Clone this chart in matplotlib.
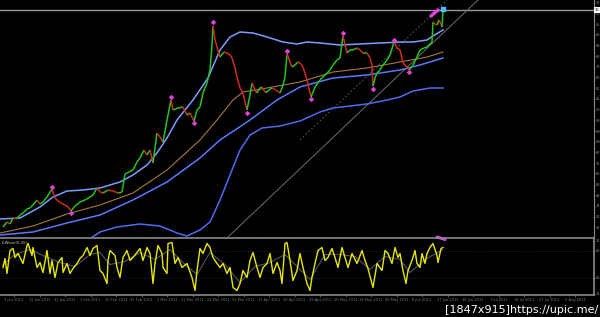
import numpy as np
import matplotlib
matplotlib.use("Agg")
import matplotlib.pyplot as plt
from matplotlib.collections import LineCollection

# ---- price (close), bar position / level ----
bar = [3, 7, 10, 13, 17, 20, 23, 27, 30, 33, 37, 40, 43, 47, 52, 55, 57, 61, 65, 68,
       71, 75, 80, 85, 90, 93, 97, 100, 103, 108, 113, 118, 122, 125, 129, 133, 137, 140, 144, 147,
       150, 153, 157, 160, 163, 167, 171, 173, 178, 183, 187, 190, 194, 197, 200, 203, 207, 210, 212, 213,
       215, 217, 220, 224, 227, 230, 232, 235, 237, 240, 243, 247, 250, 252, 255, 257, 260, 262, 265, 267,
       270, 272, 276, 280, 283, 285, 287, 290, 292, 295, 298, 301, 303, 307, 311, 315, 318, 320, 324, 327,
       330, 333, 337, 340, 343, 347, 350, 353, 357, 360, 363, 367, 370, 372, 373, 375, 377, 380, 383, 387,
       390, 394, 397, 400, 403, 407, 409, 411, 413, 417, 420, 424, 427, 430, 432, 433, 435, 437, 439, 441,
       442, 443]
close = [13, 18, 16, 22, 21, 25, 27, 31, 32, 35, 40, 36, 38, 43, 51, 42, 40, 37, 35, 33,
         29, 34, 38, 40, 43, 45, 52, 48, 47, 50, 49, 47, 48, 66, 68, 70, 78, 82, 90, 85,
         90, 77, 107, 103, 98, 120, 140, 130, 132, 133, 125, 127, 119, 130, 133, 147, 157, 170, 195, 214,
         200, 193, 183, 188, 187, 185, 182, 172, 163, 152, 147, 130, 145, 157, 150, 147, 152, 153, 148, 148,
         151, 152, 150, 147, 155, 163, 186, 178, 173, 175, 178, 176, 173, 160, 143, 153, 157, 160, 164, 167,
         170, 175, 180, 182, 204, 187, 190, 190, 192, 190, 187, 187, 182, 175, 154, 162, 167, 170, 175, 180,
         185, 198, 192, 190, 177, 173, 170, 172, 175, 183, 190, 192, 193, 196, 198, 218, 216, 215, 220, 216,
         213, 229]

# fractal marks
frac_x = [52, 71, 171, 194, 213, 247, 287, 311, 343, 373, 394, 409]
frac_y = [53, 27, 143, 117, 218, 127, 189, 141, 207, 151, 200, 168]

# bands and moving average
up_x = [0, 20, 40, 53, 67, 83, 100, 120, 133, 147, 157, 167, 177, 193, 208, 220, 230, 240, 253, 267,
        283, 297, 307, 320, 340, 360, 380, 400, 413, 427, 433, 443]
up_y = [21, 22, 33, 43, 49, 50, 52, 58, 65, 75, 87, 102, 120, 140, 162, 190, 203, 208, 207, 203,
        198, 196, 198, 197, 195, 196, 197, 198, 198, 200, 204, 210]
mid_x = [0, 33, 67, 100, 133, 167, 200, 220, 250, 277, 300, 333, 367, 400, 420, 443]
mid_y = [5, 8, 17, 25, 40, 58, 82, 100, 120, 140, 153, 162, 165, 170, 175, 182]
ma_x = [0, 33, 67, 100, 133, 167, 200, 217, 233, 243, 267, 300, 333, 367, 400, 427, 443]
ma_y = [7, 14, 26, 35, 47, 70, 100, 120, 140, 148, 152, 158, 168, 172, 178, 183, 188]
lo_x = [88, 100, 117, 140, 160, 177, 187, 200, 210, 220, 230, 240, 250, 262, 280, 300, 320, 333, 350, 367,
        387, 400, 413, 430, 443]
lo_y = [0, 8, 13, 16, 14, 7, 4, 10, 18, 40, 65, 90, 105, 112, 114, 119, 128, 132, 134, 136,
        140, 143, 149, 152, 152]

# trend lines (two ends each)
trend_x = [228, 478]
trend_y = [3, 240]
chan_x = [300, 447]
chan_y = [100, 240]
last_price = 230

# ---- oscillator ----
osc_x = [3, 5, 7, 10, 13, 15, 18, 23, 27, 28, 32, 33, 37, 40, 43, 47, 50, 52, 55, 58,
         62, 63, 67, 70, 73, 77, 80, 83, 87, 90, 93, 97, 100, 103, 107, 108, 110, 115, 117, 120,
         123, 127, 130, 133, 137, 140, 143, 147, 150, 153, 155, 158, 162, 163, 167, 168, 172, 175, 178, 182,
         187, 192, 195, 197, 200, 203, 207, 210, 213, 217, 220, 223, 227, 230, 233, 237, 240, 243, 247, 250,
         253, 257, 260, 263, 267, 270, 273, 277, 280, 282, 285, 287, 290, 293, 297, 300, 303, 307, 310, 312,
         315, 318, 322, 325, 328, 332, 335, 338, 342, 345, 348, 352, 357, 362, 365, 368, 373, 377, 382, 385,
         388, 392, 395, 398, 400, 403, 406, 408, 412, 415, 417, 420, 422, 425, 427, 430, 433, 437, 438, 441,
         443]
osc_y = [27, 36, 21, 44, 46, 37, 41, 31, 49, 51, 39, 47, 27, 32, 22, 44, 21, 34, 17, 32,
         37, 22, 31, 21, 26, 31, 36, 39, 47, 39, 46, 49, 24, 21, 11, 34, 44, 39, 27, 17,
         37, 44, 34, 37, 42, 46, 34, 47, 41, 11, 31, 49, 41, 27, 21, 51, 52, 31, 37, 27,
         31, 17, 4, 24, 46, 41, 51, 47, 37, 31, 27, 31, 21, 27, 7, 4, 11, 24, 17, 34,
         42, 27, 17, 27, 31, 41, 21, 32, 24, 11, 51, 52, 34, 14, 24, 41, 27, 11, 4, 17,
         31, 44, 47, 34, 37, 46, 37, 27, 47, 37, 27, 41, 31, 44, 34, 26, 7, 31, 24, 44,
         41, 31, 47, 37, 41, 24, 11, 24, 34, 44, 31, 27, 41, 31, 41, 47, 51, 39, 32, 46,
         47]
sig_x = [3, 15, 30, 45, 60, 75, 90, 100, 110, 125, 140, 155, 170, 185, 197, 210, 225, 240, 255, 270,
         285, 295, 310, 325, 340, 355, 370, 385, 400, 410, 425, 443]
sig_y = [30, 40, 45, 38, 32, 28, 40, 42, 30, 33, 42, 35, 45, 30, 20, 42, 30, 12, 28, 32,
         40, 30, 15, 40, 40, 38, 25, 38, 35, 22, 35, 45]

time_labels = ["3 Jan 2011", "12 Jan 2011", "21 Jan 2011", "1 Feb 2011", "10 Feb 2011",
               "21 Feb 2011", "2 Mar 2011", "11 Mar 2011", "22 Mar 2011", "31 Mar 2011",
               "11 Apr 2011", "20 Apr 2011", "29 Apr 2011", "10 May 2011", "19 May 2011",
               "30 May 2011", "8 Jun 2011", "17 Jun 2011", "28 Jun 2011", "7 Jul 2011",
               "18 Jul 2011", "27 Jul 2011", "5 Aug 2011"]

W, H = 600, 317
fig = plt.figure(figsize=(W / 100, H / 100), dpi=100, facecolor="black")
ax = fig.add_axes([0, (H - 237) / H, 594 / W, 237 / H], facecolor="black")
ax2 = fig.add_axes([0, (H - 294.5) / H, 594 / W, 56.5 / H], facecolor="black")

grey = "#8a8a8a"

# ---- main panel ----
ax.axhline(last_price, color="#9a9a9a", lw=1)
ax.plot(trend_x, trend_y, color="#6e6e6e", lw=0.7)
ax.plot(chan_x, chan_y, color="#4a5a4a", lw=0.7, ls=(0, (2, 2)))

ax.plot(lo_x, lo_y, color="#4f6cf0", lw=1.1)
ax.plot(mid_x, mid_y, color="#5a78ff", lw=1.1)
ax.plot(ma_x, ma_y, color="#a87a3c", lw=0.8)
ax.plot(up_x, up_y, color="#7f9cff", lw=1.1)

pts = np.column_stack([bar, close])
segs = np.stack([pts[:-1], pts[1:]], axis=1)
cols = ["#22c422" if b >= a else "#d42a1e" for a, b in zip(close[:-1], close[1:])]
ax.add_collection(LineCollection(segs, colors=cols, linewidths=1.1))

ax.scatter(frac_x, frac_y, s=8, marker="D", color="#e040e0", zorder=5, linewidths=0)
ax.plot([431, 438], [224, 230], color="#e040e0", lw=2.5, solid_capstyle="round")
ax.scatter([443], [231], s=10, marker="s", color="#50b8ff", zorder=6)

ax.set_xlim(0, 594)
ax.set_ylim(3, 240)
for s in ["top", "left", "bottom"]:
    ax.spines[s].set_visible(False)
ax.spines["right"].set_color(grey)
ax.set_xticks([])
pticks = np.arange(237.3, 3, -10.7)
ax.yaxis.tick_right()
ax.set_yticks(pticks)
ax.set_yticklabels([f"{int(v) % 100:02d}" for v in pticks])
ax.tick_params(axis="y", colors=grey, labelsize=2.6, length=1, width=0.5, pad=0.5)
ax.text(595, last_price, f"{last_price % 100:02d}", fontsize=2.6, color="black",
        va="center", ha="left", clip_on=False,
        bbox=dict(facecolor="white", edgecolor="none", pad=0.4))

# ---- oscillator panel ----
ax2.axhline(44, color="#333333", lw=0.5, ls=(0, (1, 2)))
ax2.axhline(17, color="#333333", lw=0.5, ls=(0, (1, 2)))
ax2.plot(sig_x, sig_y, color="#55556a", lw=0.8)
ax2.plot(osc_x, osc_y, color="#e8e800", lw=1.0)
ax2.plot([437, 445], [57.5, 55], color="#e040e0", lw=2.2, clip_on=False, solid_capstyle="round")
ax2.text(2, 53, "E-Wave(5,35)", fontsize=2.8, color="#cccccc", va="top")
ax2.set_xlim(0, 594)
ax2.set_ylim(0, 56.5)
ax2.spines["left"].set_visible(False)
for s in ["top", "bottom", "right"]:
    ax2.spines[s].set_color(grey)
    ax2.spines[s].set_linewidth(1.2)
ax2.yaxis.tick_right()
ax2.set_yticks([1, 17, 44, 54])
ax2.set_yticklabels(["15", "05", "05", "12"])
ax2.tick_params(axis="y", colors=grey, labelsize=2.6, length=1, width=0.5, pad=0.5)
tpos = np.arange(14, 580, 25.5)[:len(time_labels)]
ax2.set_xticks(tpos)
ax2.set_xticklabels(time_labels[:len(tpos)])
ax2.tick_params(axis="x", colors="#777777", labelsize=2.6, length=1.5, width=0.5, pad=0.8)

fig.text(598 / W, 1 - 313 / H, "[1847x915]https://upic.me/", color="white",
         fontsize=8, ha="right", va="baseline", family="DejaVu Sans")

fig.savefig("out.png", dpi=100, facecolor="black")
